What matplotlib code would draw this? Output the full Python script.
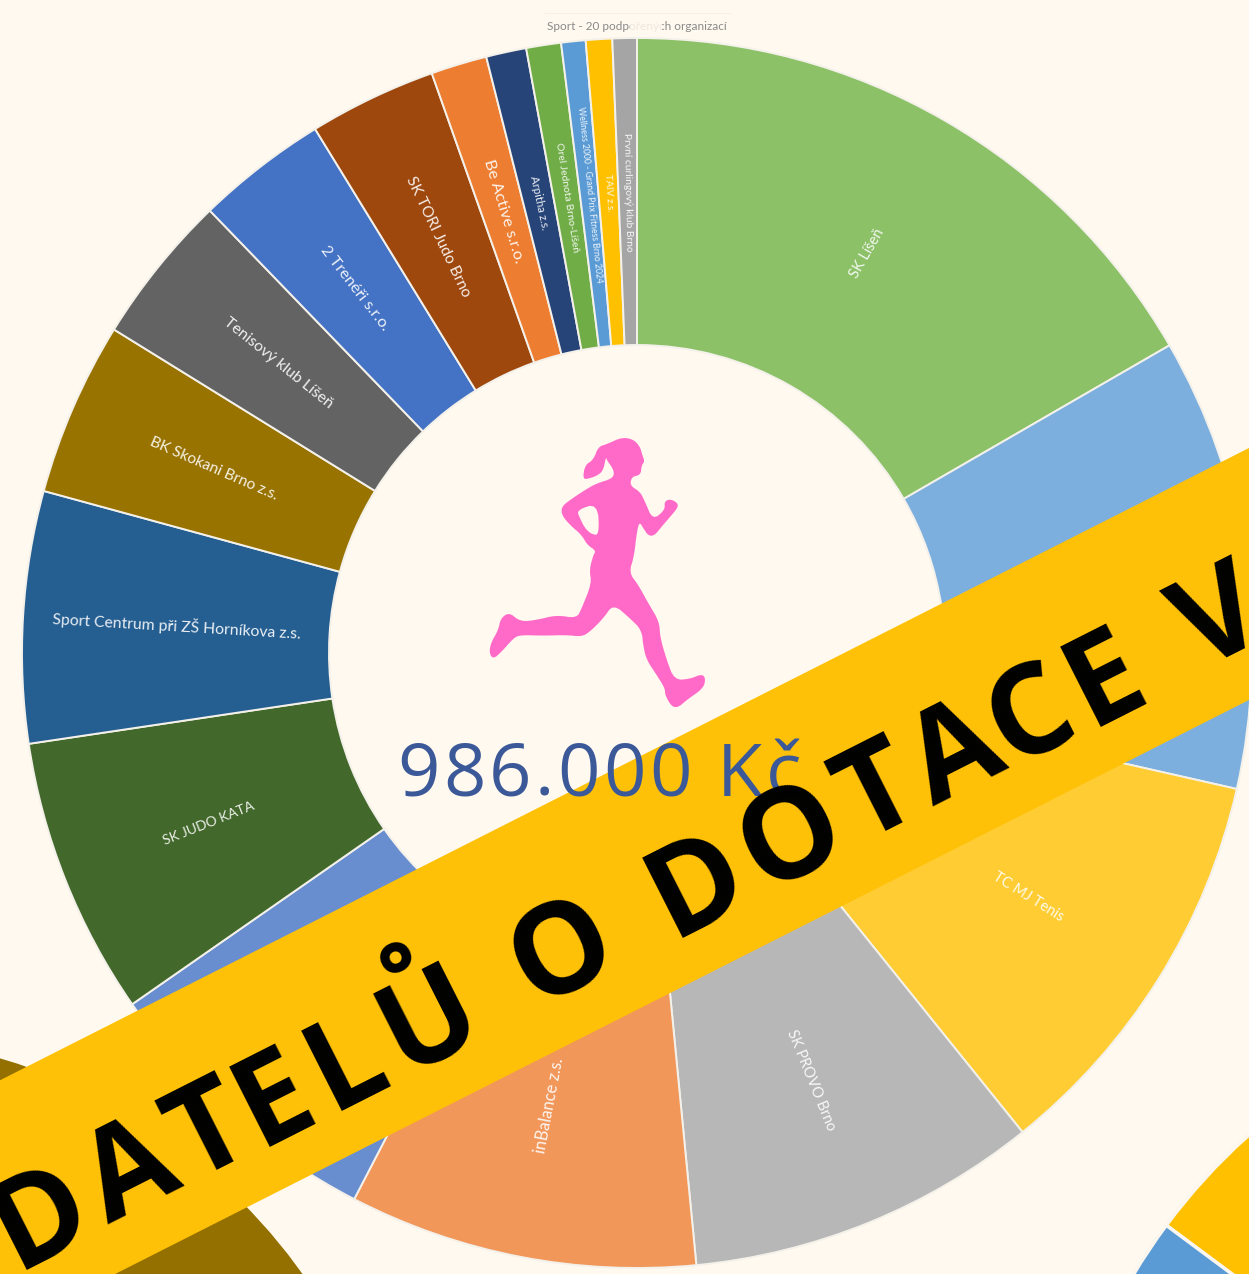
import numpy as np
import matplotlib.pyplot as plt
from matplotlib.font_manager import FontProperties
from matplotlib.patches import Polygon, Rectangle
from matplotlib.textpath import TextPath

W, H = 1249, 1274
BG = '#FFF9EF'

# podpora v tis. Kč, odečteno z úhlů výsečí
names = ['SK Líšeň', '', 'TC MJ Tenis', 'SK PROVO Brno', 'inBalance z.s.', '', 'SK JUDO KATA',
         'Sport Centrum při ZŠ Horníkova z.s.', 'BK Skokani Brno z.s.', 'Tenisový klub Líšeň',
         '2 Trenéři s.r.o.', 'SK TORI Judo Brno', 'Be Active s.r.o.', 'Arpitha z.s.',
         'Orel Jednota Brno-Líšeň', 'Wellness 2000 - Grand Prix Fitness Brno 2024', 'TAIV z.s.',
         'První curlingový klub Brno']
values = [164, 117, 105, 91, 90, 76, 72, 65, 45, 39, 34, 33, 14.5, 10.4, 9, 6.3, 6.8, 6.3]
colors = ['#8CC168', '#7CAFDD', '#FFCD33', '#B7B7B7', '#F1975A', '#698ED0', '#43682B', '#255E91',
          '#997300', '#636363', '#4472C4', '#9E480E', '#ED7D31', '#264478', '#70AD47', '#5B9BD5',
          '#FFC000', '#A5A5A5']
label_sizes = [10.5, 10, 10.5, 10.5, 11.9, 10, 10, 11.3, 11.1, 11.3, 11.7, 11.2, 11.8, 8.2, 7.5, 6.2, 7.1, 7.4]

total_text = '986.000 Kč'
title_text = 'Sport - 20 podpořených organizací'
banner_text = 'DATELŮ O DOTACE V'

# obrys běžkyně v pixelech výřezu (x, y)
runner = [(455,52),(490,58),(510,80),(517,105),(524,125),(515,135),(512,165),(485,170),(480,197),
          (510,215),(525,245),(548,300),(585,270),(583,245),(600,237),(622,248),(624,262),(605,285),
          (575,320),(553,347),(535,347),(520,325),(508,305),(500,340),(492,410),(477,458),(505,495),
          (535,550),(568,605),(570,650),(590,720),(613,780),(660,777),(695,762),(707,775),(700,805),
          (650,840),(625,862),(605,860),(585,825),(585,805),(560,765),(530,720),(520,680),(515,630),
          (480,595),(430,552),(400,595),(360,635),(335,650),(290,645),(220,647),(150,645),(130,655),
          (95,695),(70,717),(58,700),(62,670),(85,630),(92,595),(118,577),(150,605),(200,600),
          (260,585),(320,595),(335,565),(365,490),(358,450),(370,405),(378,392),(352,375),(335,345),
          (300,315),(275,285),(275,260),(300,240),(345,210),(380,190),(430,175),(432,150),(410,120),
          (408,110),(400,150),(385,165),(360,175),(338,178),(345,135),(370,120),(385,80),(412,72)]
runner_hole = [(320,270),(383,250),(388,345),(365,343),(345,325),(330,295)]


def flip(py):
    return H - py


def smooth(pts, n=2):
    # Chaikin, jen aby obrys nebyl hranatý
    p = np.array(pts, dtype=float)
    for _ in range(n):
        q = np.roll(p, -1, axis=0)
        p = np.column_stack([0.75 * p + 0.25 * q, 0.25 * p + 0.75 * q]).reshape(-1, 2)
    return p


def runner_xy(pts):
    p = smooth(pts)
    return np.column_stack([470 + p[:, 0] / 3, flip(420 + p[:, 1] / 3)])


def spaced_text(ax, x, y, s, size, track, angle=0, **kw):
    # text s prostrkáním, každé písmeno zvlášť
    fp = FontProperties(family='Open Sans', weight=kw.get('fontweight', 'normal'))
    px = size * 100 / 72
    bar = TextPath((0, 0), '|', size=px, prop=fp).get_extents().x1
    a = np.deg2rad(angle)
    for i, ch in enumerate(s):
        if ch == ' ':
            continue
        off = 0
        if i:
            off = TextPath((0, 0), s[:i] + '|', size=px, prop=fp).get_extents().x1 - bar
        off += i * track
        ax.text(x + off * np.cos(a), y + off * np.sin(a), ch, fontsize=size, family='Open Sans',
                rotation=angle, rotation_mode='anchor', ha='left', va='baseline', **kw)


fig = plt.figure(figsize=(W / 100, H / 100), dpi=100, facecolor=BG)
ax = fig.add_axes([0, 0, 1, 1])

# hlavní prstenec
cx, cy, R = 637, flip(653), 615
wedges, _ = ax.pie(values, colors=colors, startangle=90, counterclock=False, radius=R, center=(cx, cy),
                   wedgeprops=dict(width=R - 308, edgecolor='#F4F1EA', linewidth=1.4))

# sousední grafy, zbyly z nich jen kousky
ax.pie([1, 1], colors=['#937000', '#937000'], startangle=0, radius=569, center=(-161, flip(1604)),
       wedgeprops=dict(width=250))
ax.pie([1, 1], colors=['#FFC000', '#5B9BD5'], startangle=143.4, counterclock=False, radius=605,
       center=(1652, flip(1586)), wedgeprops=dict(width=250, edgecolor='#FBF7EE', linewidth=2.5))

ax.set_xlim(0, W)
ax.set_ylim(0, H)
ax.set_aspect('equal')
ax.axis('off')

lato = ['Lato', 'DejaVu Sans']
for w, name, fs in zip(wedges, names, label_sizes):
    if not name:
        continue
    mid = (w.theta1 + w.theta2) / 2
    a = np.deg2rad(mid)
    rot = mid if np.cos(a) >= 0 else mid + 180
    ax.text(cx + 0.75 * R * np.cos(a), cy + 0.75 * R * np.sin(a), name, color='#FFFFFF', fontsize=fs,
            family=lato, rotation=rot, rotation_mode='anchor', ha='center', va='center', alpha=0.9)

ax.text(637, flip(26), title_text, fontsize=8.5, color='#8A8A8A', family=lato, ha='center', va='center', zorder=3)
ax.add_patch(Rectangle((630, flip(34)), 32, 16, color=BG, alpha=0.85, lw=0, zorder=4))
ax.plot([545, 730], [flip(13), flip(13)], color='#F4F1EA', lw=0.8)

ax.add_patch(Polygon(runner_xy(runner), closed=True, color='#FF69C8', lw=0))
ax.add_patch(Polygon(runner_xy(runner_hole), closed=True, color=BG, lw=0))

# žlutý pruh přes graf
angle = 26.85
slope = np.tan(np.deg2rad(angle))
top = [(-50, flip(448 + 1299 * slope)), (W + 50, flip(448 - 50 * slope))]
bot = [(W + 50, flip(700 - 50 * slope)), (-50, flip(700 + 1299 * slope))]
ax.add_patch(Polygon(top + bot, closed=True, color='#FFC107', lw=0, zorder=5))

spaced_text(ax, 397, flip(796), total_text, 53.5, 3.3, color='#3B5998', zorder=6)
spaced_text(ax, 16, flip(1270), banner_text, 90, 10.7, angle=angle, fontweight='bold', color='black', zorder=7)

plt.savefig('out.png', dpi=100, facecolor=BG)
